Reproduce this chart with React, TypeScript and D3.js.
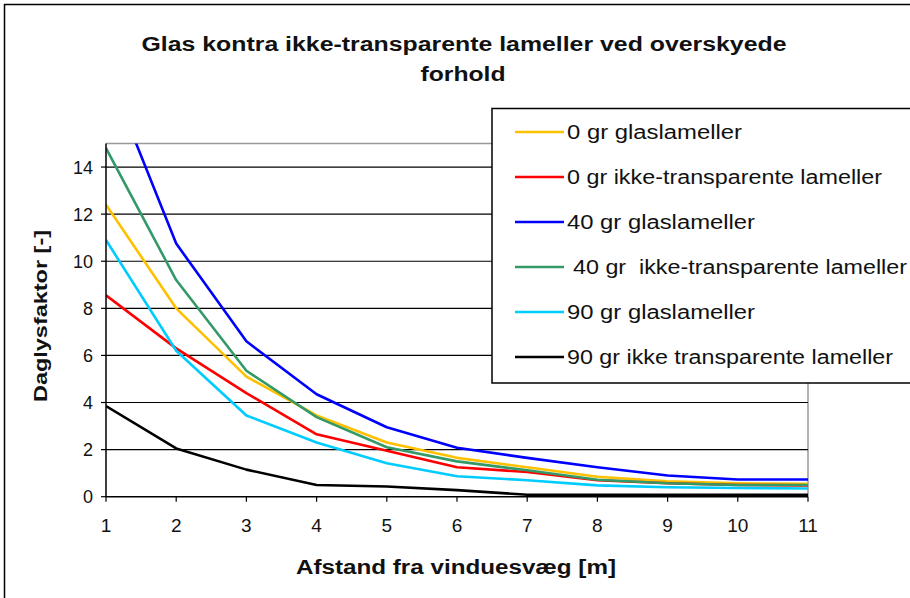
import React from "react";
import * as d3 from "d3";

const distances = [1, 2, 3, 4, 5, 6, 7, 8, 9, 10, 11];
const glas0 = [12.4, 8.0, 5.1, 3.45, 2.3, 1.65, 1.25, 0.85, 0.65, 0.57, 0.55];
const ikke0 = [8.55, 6.3, 4.4, 2.65, 1.95, 1.25, 1.05, 0.7, 0.57, 0.5, 0.48];
const glas40 = [18.2, 10.75, 6.6, 4.35, 2.95, 2.08, 1.65, 1.25, 0.9, 0.73, 0.73];
const ikke40 = [14.8, 9.2, 5.35, 3.38, 2.1, 1.5, 1.12, 0.72, 0.57, 0.5, 0.5];
const glas90 = [10.9, 6.2, 3.45, 2.3, 1.42, 0.87, 0.7, 0.48, 0.4, 0.37, 0.35];
const ikke90 = [3.85, 2.05, 1.15, 0.5, 0.43, 0.28, 0.08, 0.08, 0.08, 0.08, 0.08];

const seriesNames = [
  "0 gr glaslameller",
  "0 gr ikke-transparente lameller",
  "40 gr glaslameller",
  " 40 gr  ikke-transparente lameller",
  "90 gr glaslameller",
  "90 gr ikke transparente lameller",
];
const seriesColors = ["#FFC000", "#FF0000", "#0000FF", "#339966", "#00CCFF", "#000000"];
const seriesValues = [glas0, ikke0, glas40, ikke40, glas90, ikke90];
const legendTextWidths = [175, 315, 188, 334, 188, 326];
const yTicks = [0, 2, 4, 6, 8, 10, 12, 14];

const titleLines = ["Glas kontra ikke-transparente lameller ved overskyede", "forhold"];
const yTitle = "Daglysfaktor [-]";
const xTitle = "Afstand fra vinduesvæg [m]";

const FONT = "'Liberation Sans', Arial, sans-serif";

export default function App() {
  const W = 910, H = 598;
  const left = 106, right = 808, top = 143.5, bottom = 496.7;
  const x = d3.scaleLinear().domain([1, 11]).range([left, right]);
  const y = d3.scaleLinear().domain([0, 15]).range([bottom, top]);
  const line = d3
    .line<number>()
    .x((_, i) => x(distances[i]))
    .y((v) => y(v));

  const legendX = 492, legendY = 108.5;
  const legendRowY = (i: number) => 132 + i * 45;

  return (
    <svg
      width={W}
      height={H}
      style={{ position: "absolute", left: 0, top: 0, background: "#fff" }}
      fontFamily={FONT}
    >
      <rect x={0} y={0} width={W} height={H} fill="#fff" />
      {/* outer frame */}
      <rect x={4.5} y={4.5} width={W + 20} height={H + 20} fill="none" stroke="#000" strokeWidth={1.5} />

      {/* title */}
      <text x={464} y={51} textAnchor="middle" fontSize={20} fontWeight="bold" textLength={645} lengthAdjust="spacingAndGlyphs" fill="#111">
        {titleLines[0]}
      </text>
      <text x={463} y={81} textAnchor="middle" fontSize={20} fontWeight="bold" fill="#111" textLength={85} lengthAdjust="spacingAndGlyphs">
        {titleLines[1]}
      </text>

      <defs>
        <clipPath id="plotClip">
          <rect x={left} y={top} width={right - left} height={bottom - top + 3} />
        </clipPath>
      </defs>

      {/* plot border top and right (gray) */}
      <line x1={left} x2={right} y1={top} y2={top} stroke="#999" strokeWidth={1.5} />
      <line x1={right} x2={right} y1={top} y2={bottom} stroke="#999" strokeWidth={1.5} />

      {/* gridlines */}
      {yTicks.filter((t) => t > 0).map((t) => (
        <line key={t} x1={left} x2={right} y1={y(t)} y2={y(t)} stroke="#000" strokeWidth={1.2} />
      ))}

      {/* series */}
      <g clipPath="url(#plotClip)">
        {seriesValues.map((vals, i) => (
          <path key={i} d={line(vals) || ""} fill="none" stroke={seriesColors[i]} strokeWidth={2.6} strokeLinejoin="round" />
        ))}
      </g>

      {/* axes */}
      <line x1={left} x2={left} y1={top} y2={bottom} stroke="#000" strokeWidth={1.5} />
      <line x1={left} x2={right} y1={bottom} y2={bottom} stroke="#000" strokeWidth={1.5} />
      {yTicks.map((t) => (
        <g key={t}>
          <line x1={left - 5} x2={left} y1={y(t)} y2={y(t)} stroke="#000" strokeWidth={1.2} />
          <text x={left - 13} y={y(t) + 6.5} textAnchor="end" fontSize={18} fill="#111">
            {t}
          </text>
        </g>
      ))}
      {distances.map((d) => (
        <g key={d}>
          <line x1={x(d)} x2={x(d)} y1={bottom} y2={bottom + 5} stroke="#000" strokeWidth={1.2} />
          <text x={x(d)} y={bottom + 35} textAnchor="middle" fontSize={19} fill="#111">
            {d}
          </text>
        </g>
      ))}

      {/* axis titles */}
      <text
        transform={`translate(47, 316) rotate(-90)`}
        textAnchor="middle"
        fontSize={19}
        fontWeight="bold"
        fill="#111"
        textLength={172}
        lengthAdjust="spacingAndGlyphs"
      >
        {yTitle}
      </text>
      <text x={456} y={574} textAnchor="middle" fontSize={20} fontWeight="bold" fill="#111" textLength={320} lengthAdjust="spacingAndGlyphs">
        {xTitle}
      </text>

      {/* legend */}
      <rect x={legendX} y={legendY} width={W} height={383 - legendY} fill="#fff" stroke="#000" strokeWidth={1.5} />
      {seriesNames.map((name, i) => (
        <g key={i}>
          <line x1={515} x2={564} y1={legendRowY(i)} y2={legendRowY(i)} stroke={seriesColors[i]} strokeWidth={2.6} />
          <text
            x={name.startsWith(" ") ? 573 : 567}
            y={legendRowY(i) + 7}
            fontSize={20}
            fill="#111"
            textLength={legendTextWidths[i]}
            lengthAdjust="spacingAndGlyphs"
            style={{ whiteSpace: "pre" }}
          >
            {name.trimStart()}
          </text>
        </g>
      ))}
    </svg>
  );
}
